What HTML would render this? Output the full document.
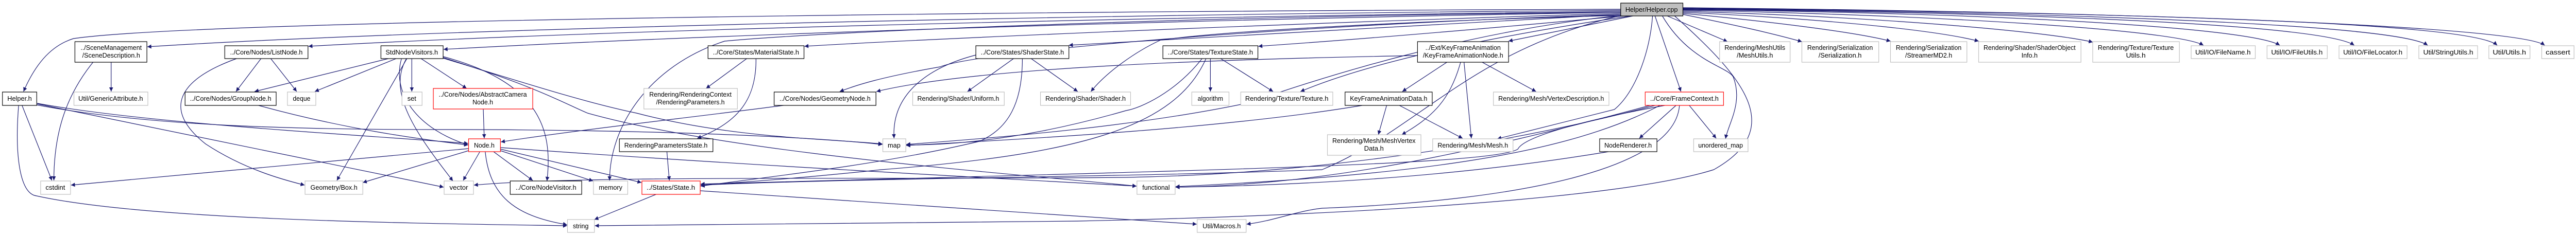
<!DOCTYPE html>
<html><head><meta charset="utf-8"><meta name="viewport" content="width=5261"><style>
html,body{margin:0;padding:0;background:#fff;overflow:hidden;}
svg{display:block;width:100vw;height:100vh;}
text{font-family:"Liberation Sans",Arial,sans-serif;font-size:13px;fill:#000;text-anchor:middle;}
.e{fill:none;stroke:#191970;stroke-width:1.2;marker-end:url(#a);}
.b{fill:#fff;stroke:#000;stroke-width:1.2;}
.g{fill:#fff;stroke:#bfbfbf;stroke-width:1.2;}
.r{fill:#fff;stroke:#ff0000;stroke-width:1.2;}
</style></head><body>
<svg viewBox="0 0 5261 459" preserveAspectRatio="none" xmlns="http://www.w3.org/2000/svg">
<defs><marker id="a" viewBox="0 0 10 10" refX="10" refY="5" markerWidth="10" markerHeight="8" markerUnits="userSpaceOnUse" orient="auto"><path d="M0,0L10,5L0,10z" fill="#191970"/></marker></defs>
<g>
<path class="e" d="M3310,18 C2000,22 400,40 150,75 C100,90 70,130 48,178"/>
<path class="e" d="M3310,20 C2000,30 800,60 301,91"/>
<path class="e" d="M3310,22 C2200,35 1200,60 630,90"/>
<path class="e" d="M3310,24 C2300,40 1400,70 906,96"/>
<path class="e" d="M3310,26 C2800,40 2000,70 1643,90"/>
<path class="e" d="M3310,28 C3000,45 2500,70 2183,88"/>
<path class="e" d="M3315,31 C3100,50 2800,75 2570,90"/>
<path class="e" d="M3335,31 L3081,80"/>
<path class="e" d="M3310,24 C2500,30 1700,60 1480,80 C1320,130 1245,250 1245,351"/>
<path class="e" d="M3310,30 C2900,40 2500,60 2370,78 C2320,100 2260,140 2228,178"/>
<path class="e" d="M3310,28 C2600,50 2000,100 1920,130 C1800,150 1750,165 1715,178"/>
<path class="e" d="M3330,31 C3050,70 2800,120 2656,178"/>
<path class="e" d="M3310,30 C3000,60 2700,150 2550,200 C2300,250 2000,270 1851,281"/>
<path class="e" d="M1600,205 C1400,230 1200,250 1023,276"/>
<path class="e" d="M3310,30 C3000,100 2900,250 2700,330 C2300,345 1800,345 1431,360"/>
<path class="e" d="M3370,205 C3000,300 2700,360 2401,364"/>
<path class="e" d="M3420,31 C3560,150 3650,250 3500,330 C3300,390 2700,420 2200,430 C1800,436 1400,439 1215,439"/>
<path class="e" d="M3430,205 C3420,330 3100,390 2700,405 C2650,410 2600,430 2546,436"/>
<path class="e" d="M3380,205 C3000,300 2600,340 2300,345 C1800,350 1200,340 968,360"/>
<path class="e" d="M957,289 L145,360"/>
<path class="e" d="M3380,31 L3433,178"/>
<path class="e" d="M3395,31 C3450,120 3530,130 3540,150 C3560,200 3530,240 3524,270"/>
<path class="e" d="M3375,31 C3370,100 3340,180 3297,213 L3058,270"/>
<path class="e" d="M3405,31 L3528,81"/>
<path class="e" d="M3437,28 C3550,50 3620,65 3680,81"/>
<path class="e" d="M3437,26 C3650,45 3800,65 3861,80"/>
<path class="e" d="M3437,24 C3800,40 3980,65 4041,80"/>
<path class="e" d="M3437,22 C3900,35 4200,65 4274,82"/>
<path class="e" d="M3437,20 C4000,30 4450,60 4500,88"/>
<path class="e" d="M3437,19 C4100,25 4600,55 4656,88"/>
<path class="e" d="M3437,18 C4200,25 4750,50 4808,88"/>
<path class="e" d="M3437,17 C4300,25 4900,50 4958,88"/>
<path class="e" d="M3437,16 C4400,25 5050,45 5100,88"/>
<path class="e" d="M3437,15 C4500,25 5150,55 5197,88"/>
<path class="e" d="M227,121 L227,178"/>
<path class="e" d="M190,121 C140,180 110,250 110,351"/>
<path class="e" d="M45,205 L106,351"/>
<path class="e" d="M38,205 C30,300 40,370 70,380 C300,430 900,435 1158,439"/>
<path class="e" d="M75,204 C300,245 600,252 900,252 C1400,252 1700,270 1802,281"/>
<path class="e" d="M76,202 L906,364"/>
<path class="e" d="M76,201 C300,240 700,260 956,279"/>
<path class="e" d="M533,114 L482,178"/>
<path class="e" d="M553,114 L606,178"/>
<path class="e" d="M483,114 C350,160 340,220 420,280 C500,330 580,350 622,360"/>
<path class="e" d="M528,205 C700,250 850,270 956,282"/>
<path class="e" d="M793,114 L520,178"/>
<path class="e" d="M809,114 L643,178"/>
<path class="e" d="M841,114 L841,178"/>
<path class="e" d="M860,114 L953,172"/>
<path class="e" d="M831,114 L688,351"/>
<path class="e" d="M830,114 C790,180 850,260 925,352"/>
<path class="e" d="M820,114 C800,180 850,250 956,282"/>
<path class="e" d="M905,110 C1100,160 1130,250 1117,352"/>
<path class="e" d="M905,112 C1100,170 1150,200 1200,220 C1500,300 2100,340 2321,362"/>
<path class="e" d="M905,113 C1100,170 1200,200 1300,220 C1500,270 1700,270 1802,280"/>
<path class="e" d="M987,212 L989,269"/>
<path class="e" d="M980,295 L946,351"/>
<path class="e" d="M957,293 L741,355"/>
<path class="e" d="M1008,295 L1088,351"/>
<path class="e" d="M1022,293 L1211,352"/>
<path class="e" d="M1022,290 L1310,355"/>
<path class="e" d="M991,295 C1000,380 1050,420 1158,437"/>
<path class="e" d="M1022,287 C1500,320 2000,345 2321,362"/>
<path class="e" d="M1430,371 L2444,436"/>
<path class="e" d="M1340,378 L1214,427"/>
<path class="e" d="M1525,114 L1442,172"/>
<path class="e" d="M1544,114 C1545,200 1500,240 1424,269"/>
<path class="e" d="M1362,295 L1367,351"/>
<path class="e" d="M2895,108 C2500,115 2000,130 1790,178"/>
<path class="e" d="M2070,114 L1976,178"/>
<path class="e" d="M2106,114 L2201,178"/>
<path class="e" d="M1993,107 C1900,130 1820,180 1826,269"/>
<path class="e" d="M2088,114 C2088,200 2060,250 2000,275 C1800,320 1600,340 1431,362"/>
<path class="e" d="M2472,114 L2472,178"/>
<path class="e" d="M2493,114 L2600,178"/>
<path class="e" d="M2455,114 C2400,180 2330,210 2300,215 C2100,270 1950,282 1851,282"/>
<path class="e" d="M2463,114 C2400,250 2200,300 1800,330 C1600,350 1500,355 1431,360"/>
<path class="e" d="M2955,121 L2864,178"/>
<path class="e" d="M2983,121 C2960,200 2920,230 2863,262"/>
<path class="e" d="M2990,121 L3005,269"/>
<path class="e" d="M3027,121 L3137,178"/>
<path class="e" d="M2832,205 L2815,262"/>
<path class="e" d="M2858,205 L2987,269"/>
<path class="e" d="M2782,205 C2500,250 2100,270 1851,283"/>
<path class="e" d="M3423,205 L3348,269"/>
<path class="e" d="M3450,205 L3505,269"/>
<path class="e" d="M3400,205 C3200,240 3110,270 3100,290 C3050,320 2500,330 1431,358"/>
<path class="e" d="M3390,205 C3200,300 2900,340 2401,363"/>
<path class="e" d="M3285,295 C3000,340 2700,360 2401,364"/>
</g>
<g>
<rect x="3310" y="6" width="127" height="25" fill="#bfbfbf" stroke="#000" stroke-width="1.2"/><text x="3373" y="23" textLength="107" lengthAdjust="spacingAndGlyphs">Helper/Helper.cpp</text>
<rect class="b" x="153" y="81" width="147" height="40"/><text x="227" y="97" textLength="125" lengthAdjust="spacingAndGlyphs">../SceneManagement</text><text x="227" y="112" textLength="118" lengthAdjust="spacingAndGlyphs">/SceneDescription.h</text>
<rect class="b" x="459" y="89" width="170" height="25"/><text x="544" y="106" textLength="148" lengthAdjust="spacingAndGlyphs">../Core/Nodes/ListNode.h</text>
<rect class="b" x="778" y="89" width="127" height="25"/><text x="841" y="106" textLength="107" lengthAdjust="spacingAndGlyphs">StdNodeVisitors.h</text>
<rect class="b" x="1446" y="89" width="196" height="25"/><text x="1544" y="106" textLength="176" lengthAdjust="spacingAndGlyphs">../Core/States/MaterialState.h</text>
<rect class="b" x="1993" y="89" width="190" height="25"/><text x="2088" y="106" textLength="170" lengthAdjust="spacingAndGlyphs">../Core/States/ShaderState.h</text>
<rect class="b" x="2375" y="89" width="194" height="25"/><text x="2472" y="106" textLength="174" lengthAdjust="spacingAndGlyphs">../Core/States/TextureState.h</text>
<rect class="b" x="2895" y="81" width="186" height="40"/><text x="2988" y="97" textLength="154" lengthAdjust="spacingAndGlyphs">../Ext/KeyFrameAnimation</text><text x="2988" y="112" textLength="164" lengthAdjust="spacingAndGlyphs">/KeyFrameAnimationNode.h</text>
<rect class="g" x="3512" y="81" width="144" height="40"/><text x="3584" y="97" textLength="124" lengthAdjust="spacingAndGlyphs">Rendering/MeshUtils</text><text x="3584" y="112" textLength="74" lengthAdjust="spacingAndGlyphs">/MeshUtils.h</text>
<rect class="g" x="3680" y="81" width="157" height="40"/><text x="3758" y="97" textLength="134" lengthAdjust="spacingAndGlyphs">Rendering/Serialization</text><text x="3758" y="112" textLength="88" lengthAdjust="spacingAndGlyphs">/Serialization.h</text>
<rect class="g" x="3861" y="81" width="156" height="40"/><text x="3939" y="97" textLength="134" lengthAdjust="spacingAndGlyphs">Rendering/Serialization</text><text x="3939" y="112" textLength="96" lengthAdjust="spacingAndGlyphs">/StreamerMD2.h</text>
<rect class="g" x="4041" y="81" width="209" height="40"/><text x="4145" y="97" textLength="188" lengthAdjust="spacingAndGlyphs">Rendering/Shader/ShaderObject</text><text x="4145" y="112" textLength="33" lengthAdjust="spacingAndGlyphs">Info.h</text>
<rect class="g" x="4274" y="81" width="177" height="40"/><text x="4362" y="97" textLength="155" lengthAdjust="spacingAndGlyphs">Rendering/Texture/Texture</text><text x="4362" y="112" textLength="40" lengthAdjust="spacingAndGlyphs">Utils.h</text>
<rect class="g" x="4475" y="89" width="131" height="25"/><text x="4540" y="106" textLength="113" lengthAdjust="spacingAndGlyphs">Util/IO/FileName.h</text>
<rect class="g" x="4630" y="89" width="123" height="25"/><text x="4691" y="106" textLength="105" lengthAdjust="spacingAndGlyphs">Util/IO/FileUtils.h</text>
<rect class="g" x="4777" y="89" width="139" height="25"/><text x="4846" y="106" textLength="121" lengthAdjust="spacingAndGlyphs">Util/IO/FileLocator.h</text>
<rect class="g" x="4940" y="89" width="120" height="25"/><text x="5000" y="106" textLength="102" lengthAdjust="spacingAndGlyphs">Util/StringUtils.h</text>
<rect class="g" x="5083" y="89" width="84" height="25"/><text x="5125" y="106" textLength="68" lengthAdjust="spacingAndGlyphs">Util/Utils.h</text>
<rect class="g" x="5191" y="89" width="66" height="25"/><text x="5224" y="106" textLength="50" lengthAdjust="spacingAndGlyphs">cassert</text>
<rect class="b" x="5" y="179" width="70" height="26"/><text x="40" y="196" textLength="50" lengthAdjust="spacingAndGlyphs">Helper.h</text>
<rect class="g" x="151" y="179" width="151" height="26"/><text x="226" y="196" textLength="132" lengthAdjust="spacingAndGlyphs">Util/GenericAttribute.h</text>
<rect class="b" x="378" y="179" width="186" height="26"/><text x="471" y="196" textLength="166" lengthAdjust="spacingAndGlyphs">../Core/Nodes/GroupNode.h</text>
<rect class="g" x="587" y="179" width="58" height="26"/><text x="616" y="196" textLength="36" lengthAdjust="spacingAndGlyphs">deque</text>
<rect class="g" x="821" y="179" width="41" height="26"/><text x="841" y="196" textLength="18" lengthAdjust="spacingAndGlyphs">set</text>
<rect class="r" x="885" y="172" width="203" height="40"/><text x="986" y="188" textLength="180" lengthAdjust="spacingAndGlyphs">../Core/Nodes/AbstractCamera</text><text x="986" y="203" textLength="42" lengthAdjust="spacingAndGlyphs">Node.h</text>
<rect class="g" x="1315" y="172" width="191" height="40"/><text x="1410" y="188" textLength="168" lengthAdjust="spacingAndGlyphs">Rendering/RenderingContext</text><text x="1410" y="203" textLength="140" lengthAdjust="spacingAndGlyphs">/RenderingParameters.h</text>
<rect class="b" x="1581" y="179" width="208" height="26"/><text x="1685" y="196" textLength="186" lengthAdjust="spacingAndGlyphs">../Core/Nodes/GeometryNode.h</text>
<rect class="g" x="1864" y="179" width="187" height="26"/><text x="1957" y="196" textLength="167" lengthAdjust="spacingAndGlyphs">Rendering/Shader/Uniform.h</text>
<rect class="g" x="2125" y="179" width="184" height="26"/><text x="2217" y="196" textLength="164" lengthAdjust="spacingAndGlyphs">Rendering/Shader/Shader.h</text>
<rect class="g" x="2434" y="179" width="76" height="26"/><text x="2472" y="196" textLength="52" lengthAdjust="spacingAndGlyphs">algorithm</text>
<rect class="g" x="2534" y="179" width="188" height="26"/><text x="2628" y="196" textLength="170" lengthAdjust="spacingAndGlyphs">Rendering/Texture/Texture.h</text>
<rect class="b" x="2747" y="179" width="178" height="26"/><text x="2836" y="196" textLength="158" lengthAdjust="spacingAndGlyphs">KeyFrameAnimationData.h</text>
<rect class="g" x="3050" y="179" width="236" height="26"/><text x="3168" y="196" textLength="216" lengthAdjust="spacingAndGlyphs">Rendering/Mesh/VertexDescription.h</text>
<rect class="r" x="3360" y="179" width="160" height="26"/><text x="3440" y="196" textLength="140" lengthAdjust="spacingAndGlyphs">../Core/FrameContext.h</text>
<rect class="r" x="957" y="270" width="65" height="25"/><text x="989" y="287" textLength="42" lengthAdjust="spacingAndGlyphs">Node.h</text>
<rect class="b" x="1265" y="270" width="191" height="25"/><text x="1360" y="287" textLength="170" lengthAdjust="spacingAndGlyphs">RenderingParametersState.h</text>
<rect class="g" x="1803" y="270" width="47" height="25"/><text x="1826" y="287" textLength="26" lengthAdjust="spacingAndGlyphs">map</text>
<rect class="g" x="2711" y="262" width="191" height="40"/><text x="2806" y="278" textLength="170" lengthAdjust="spacingAndGlyphs">Rendering/Mesh/MeshVertex</text><text x="2806" y="293" textLength="40" lengthAdjust="spacingAndGlyphs">Data.h</text>
<rect class="g" x="2926" y="270" width="164" height="25"/><text x="3008" y="287" textLength="144" lengthAdjust="spacingAndGlyphs">Rendering/Mesh/Mesh.h</text>
<rect class="b" x="3267" y="270" width="117" height="25"/><text x="3325" y="287" textLength="97" lengthAdjust="spacingAndGlyphs">NodeRenderer.h</text>
<rect class="g" x="3459" y="270" width="111" height="25"/><text x="3514" y="287" textLength="91" lengthAdjust="spacingAndGlyphs">unordered_map</text>
<rect class="g" x="83" y="352" width="61" height="26"/><text x="113" y="369" textLength="40" lengthAdjust="spacingAndGlyphs">cstdint</text>
<rect class="g" x="623" y="352" width="118" height="26"/><text x="682" y="369" textLength="96" lengthAdjust="spacingAndGlyphs">Geometry/Box.h</text>
<rect class="g" x="907" y="352" width="60" height="26"/><text x="937" y="369" textLength="38" lengthAdjust="spacingAndGlyphs">vector</text>
<rect class="b" x="1042" y="352" width="146" height="26"/><text x="1115" y="369" textLength="124" lengthAdjust="spacingAndGlyphs">../Core/NodeVisitor.h</text>
<rect class="g" x="1212" y="352" width="70" height="26"/><text x="1247" y="369" textLength="48" lengthAdjust="spacingAndGlyphs">memory</text>
<rect class="r" x="1311" y="352" width="119" height="26"/><text x="1370" y="369" textLength="99" lengthAdjust="spacingAndGlyphs">../States/State.h</text>
<rect class="g" x="2322" y="352" width="78" height="26"/><text x="2361" y="369" textLength="56" lengthAdjust="spacingAndGlyphs">functional</text>
<rect class="g" x="1159" y="427" width="55" height="25"/><text x="1186" y="444" textLength="32" lengthAdjust="spacingAndGlyphs">string</text>
<rect class="g" x="2445" y="427" width="100" height="25"/><text x="2495" y="444" textLength="78" lengthAdjust="spacingAndGlyphs">Util/Macros.h</text>
</g>
</svg>
</body></html>
